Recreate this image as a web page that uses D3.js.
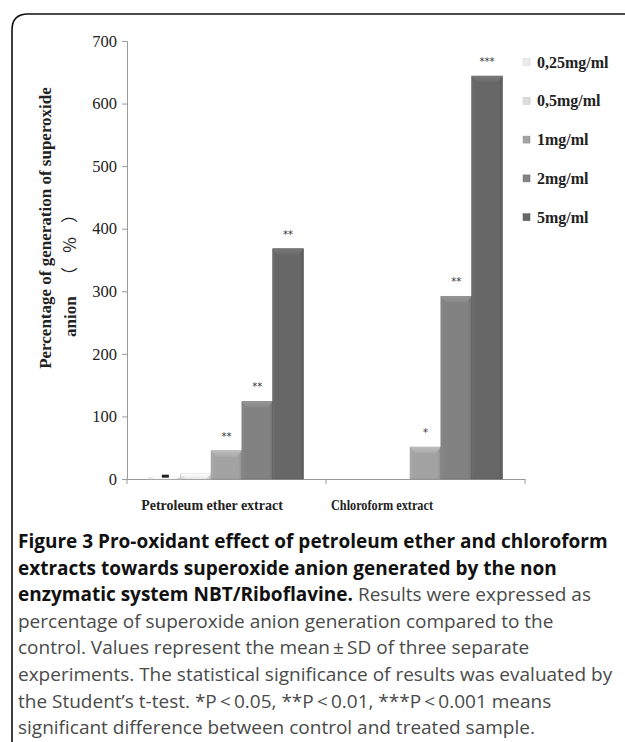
<!DOCTYPE html>
<html>
<head>
<meta charset="utf-8">
<script src="https://cdn.jsdelivr.net/npm/d3@7/dist/d3.min.js"></script>
<style>
  html, body { margin: 0; padding: 0; background: #fff; }
  svg { display: block; }
</style>
</head>
<body>
<svg id="chart" width="625" height="742"></svg>
<script>
// ---------------- data ----------------
const categories = ["Petroleum ether extract", "Chloroform extract"];
const seriesNames = ["0,25mg/ml", "0,5mg/ml", "1mg/ml", "2mg/ml", "5mg/ml"];
const petroleumValues = [3, 8, 45, 124, 368];
const chloroformValues = [0, 0, 51, 292, 644];
const petroleumStars = ["", "", "**", "**", "**"];
const chloroformStars = ["", "", "*", "**", "***"];
const yTicks = [0, 100, 200, 300, 400, 500, 600, 700];
const seriesColors = ["#ececec", "#dcdcdc", "#a3a3a3", "#828282", "#676767"];
const captionLines = [
  [["Figure 3 Pro-oxidant effect of petroleum ether and chloroform", true]],
  [["extracts towards superoxide anion generated by the non", true]],
  [["enzymatic system NBT/Riboflavine.", true], [" Results were expressed as", false]],
  [["percentage of superoxide anion generation compared to the", false]],
  [["control. Values represent the mean\u2009\u00b1\u2009SD of three separate", false]],
  [["experiments. The statistical significance of results was evaluated by", false]],
  [["the Student\u2019s t-test. *P\u2009<\u20090.05, **P\u2009<\u20090.01, ***P\u2009<\u20090.001 means", false]],
  [["significant difference between control and treated sample.", false]]
];

const table = categories.map((c, i) => ({
  category: c,
  values: i === 0 ? petroleumValues : chloroformValues,
  stars: i === 0 ? petroleumStars : chloroformStars
}));

// ---------------- layout ----------------
const svg = d3.select("#chart");
const plot = { left: 127, right: 525, top: 41, bottom: 479 };

const y = d3.scaleLinear().domain([0, 700]).range([plot.bottom, plot.top]);
const x0 = d3.scaleBand().domain(categories).range([plot.left, plot.right]).paddingInner(0).paddingOuter(0);
const x1 = d3.scaleBand().domain(seriesNames).range([0, x0.bandwidth()]).paddingOuter(0.73).paddingInner(0);

// frame
svg.append("path")
  .attr("d", "M12,760 L12,30 Q12,14 28,14 L640,14")
  .attr("fill", "none").attr("stroke", "#111").attr("stroke-width", 1.6);

// defs for shading
const defs = svg.append("defs");
seriesColors.forEach((c, i) => {
  const g = defs.append("linearGradient").attr("id", "bar" + i).attr("x1", "0").attr("x2", "1").attr("y1", "0").attr("y2", "0");
  const base = d3.color(c);
  g.append("stop").attr("offset", "0%").attr("stop-color", base.brighter(0.25));
  g.append("stop").attr("offset", "8%").attr("stop-color", base);
  g.append("stop").attr("offset", "88%").attr("stop-color", base);
  g.append("stop").attr("offset", "100%").attr("stop-color", base.darker(0.35));
  const t = defs.append("linearGradient").attr("id", "top" + i).attr("x1", "0").attr("x2", "0").attr("y1", "0").attr("y2", "1");
  t.append("stop").attr("offset", "0%").attr("stop-color", base.brighter(0.4));
  t.append("stop").attr("offset", "100%").attr("stop-color", base.brighter(0.12));
});

// y axis
const yAxis = d3.axisLeft(y).tickValues(yTicks).tickSize(5).tickPadding(5);
const gy = svg.append("g").attr("transform", `translate(${plot.left},0)`).call(yAxis);
gy.select(".domain").attr("stroke", "#9a9a9a");
gy.selectAll(".tick line").attr("stroke", "#9a9a9a");
gy.selectAll(".tick text")
  .attr("font-family", "'Liberation Serif', 'Times New Roman', serif")
  .attr("font-size", 16.5).attr("fill", "#222");

// x axis
const xAxis = d3.axisBottom(x0).tickSize(0).tickFormat("");
const gx = svg.append("g").attr("transform", `translate(0,${plot.bottom})`).call(xAxis);
gx.select(".domain").attr("stroke", "#9a9a9a");
const sepX = [plot.left, x0(categories[1]), plot.right];
gx.selectAll("line.sep").data(sepX).enter().append("line").attr("class", "sep")
  .attr("x1", d => d).attr("x2", d => d).attr("y1", 0).attr("y2", 5).attr("stroke", "#9a9a9a");

// category labels
const labelCenters = [212, 382];
svg.append("g").selectAll("text").data(categories).enter().append("text")
  .attr("x", (d, i) => labelCenters[i])
  .attr("y", 510)
  .attr("text-anchor", "middle")
  .attr("font-family", "'Liberation Serif', 'Times New Roman', serif")
  .attr("font-weight", "bold").attr("font-size", 14).attr("fill", "#222")
  .attr("textLength", (d, i) => i === 1 ? 102 : null)
  .attr("lengthAdjust", "spacingAndGlyphs")
  .text(d => d);

// bars
const groups = svg.append("g").selectAll("g").data(table).enter().append("g")
  .attr("transform", d => `translate(${x0(d.category)},0)`);

groups.each(function (d) {
  const g = d3.select(this);
  d.values.forEach((v, i) => {
    if (v <= 0) return;
    const bx = x1(seriesNames[i]);
    const bw = x1.bandwidth();
    const by = y(v);
    const bh = y(0) - by;
    g.append("rect").attr("x", bx).attr("y", by).attr("width", bw).attr("height", bh)
      .attr("fill", `url(#bar${i})`).attr("stroke", d3.color(seriesColors[i]).darker(0.4)).attr("stroke-width", 0.6);
    const bev = Math.min(6, bh);
    const ins = Math.min(5, bw / 4);
    g.append("path")
      .attr("d", `M${bx},${by} L${bx + bw},${by} L${bx + bw - ins},${by + bev} L${bx + ins},${by + bev} Z`)
      .attr("fill", `url(#top${i})`);
    if (d.stars[i]) {
      g.append("text").attr("x", bx + bw / 2).attr("y", by - 11)
        .attr("text-anchor", "middle")
        .attr("font-family", "'DejaVu Sans', sans-serif").attr("font-size", 10).attr("fill", "#333")
        .text(d.stars[i]);
    }
  });
});

// small dark mark on first petroleum bar (error indicator)
{
  const bx = x0(categories[0]) + x1(seriesNames[0]);
  const bw = x1.bandwidth();
  svg.append("rect").attr("x", bx + bw / 2 - 3).attr("y", y(petroleumValues[0] + 1.5) - 1.5)
    .attr("width", 7).attr("height", 3).attr("fill", "#222");
}

// y title
const yTitle = svg.append("g").attr("font-family", "'Liberation Serif', 'Times New Roman', serif")
  .attr("font-weight", "bold").attr("font-size", 17).attr("fill", "#222");
yTitle.append("text").attr("transform", "translate(51,228) rotate(-90)").attr("text-anchor", "middle")
  .text("Percentage of generation of superoxide");
yTitle.append("text").attr("transform", "translate(76,337) rotate(-90)").attr("text-anchor", "start")
  .text("anion");
yTitle.append("text").attr("transform", "translate(76,284) rotate(-90)").attr("text-anchor", "start")
  .attr("font-family", "'Noto Sans CJK SC', 'Liberation Serif', serif").attr("font-weight", "normal")
  .attr("textLength", 78).attr("lengthAdjust", "spacing")
  .text("\uFF08%\uFF09");

// legend
const legend = svg.append("g").attr("transform", "translate(523,62)");
const li = legend.selectAll("g").data(seriesNames).enter().append("g")
  .attr("transform", (d, i) => `translate(0,${i * 38.8})`);
li.append("rect").attr("x", 0).attr("y", -3.5).attr("width", 7).attr("height", 7)
  .attr("fill", (d, i) => `url(#bar${i})`).attr("stroke", (d, i) => d3.color(seriesColors[i]).darker(0.3)).attr("stroke-width", 0.5);
li.append("text").attr("x", 14).attr("y", 5.5)
  .attr("font-family", "'Liberation Serif', 'Times New Roman', serif")
  .attr("font-weight", "bold").attr("font-size", 16).attr("fill", "#222")
  .text(d => d);

// caption
const cap = svg.append("g").attr("font-family", "'Open Sans', 'Noto Sans', sans-serif").attr("font-size", 19);
captionLines.forEach((line, i) => {
  const t = cap.append("text").attr("x", 18).attr("y", 548 + i * 26.6);
  line.forEach(([s, b]) => {
    t.append("tspan").attr("font-weight", b ? "bold" : "normal").attr("fill", b ? "#111" : "#4a4a4a").text(s);
  });
});
</script>
</body>
</html>
